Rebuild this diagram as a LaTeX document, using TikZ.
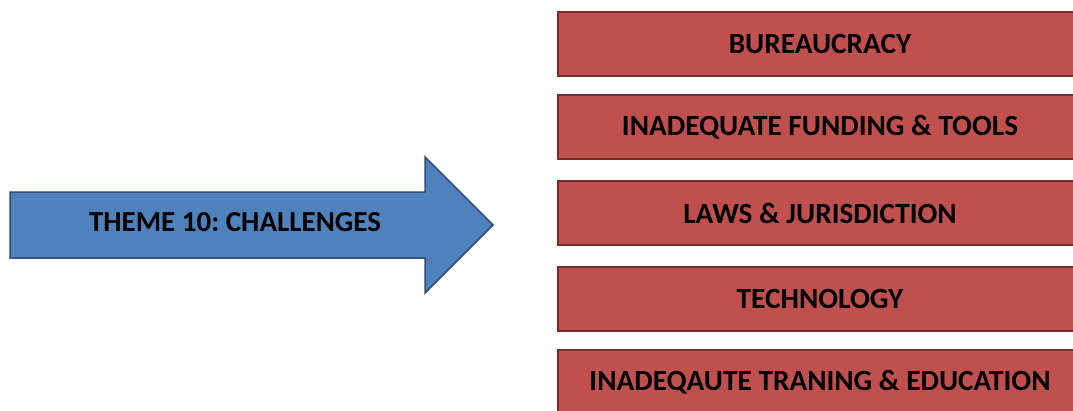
\documentclass[tikz,border=0pt]{standalone}
\usepackage{fontspec}
\setmainfont{Carlito}
\frenchspacing
\definecolor{boxred}{HTML}{C0504D}
\definecolor{boxredline}{HTML}{772C2A}
\definecolor{arrowblue}{HTML}{4F81BD}
\definecolor{arrowblueline}{HTML}{2C4D75}

\begin{document}
\begin{tikzpicture}[x=1pt, y=-1pt,
    challenge/.style={draw=boxredline, fill=boxred, line width=2pt,
      minimum width=524pt, minimum height=64pt, inner sep=0pt,
      font=\fontsize{29.3}{34}\selectfont\bfseries},
    themetext/.style={font=\fontsize{29}{34}\selectfont\bfseries}]
      \useasboundingbox (0, 0) rectangle (1073, 410);
      \clip (0, 0) rectangle (1073, 410);
      % arrow on the left
      \draw[fill=arrowblue, draw=arrowblueline, line width=1.5pt, line join=miter]
        (10, 192) -- (425, 192) -- (425, 157) -- (493, 225)
        -- (425, 293) -- (425, 258) -- (10, 258) -- cycle;
      \node[themetext] (theme) at (235, 222) {THEME 10: CHALLENGES};
      % boxes on the right
      \node[challenge] (bur) at (820, 43.5) {BUREAUCRACY};
      \node[challenge] (fund) at (820, 127) {INADEQUATE FUNDING \& TOOLS};
      \node[challenge] (laws) at (820, 213) {LAWS \& JURISDICTION};
      \node[challenge] (tech) at (820, 298.5) {TECHNOLOGY};
      \node[challenge] (edu) at (820, 382) {INADEQAUTE TRANING \& EDUCATION};
    \end{tikzpicture}
\end{document}
